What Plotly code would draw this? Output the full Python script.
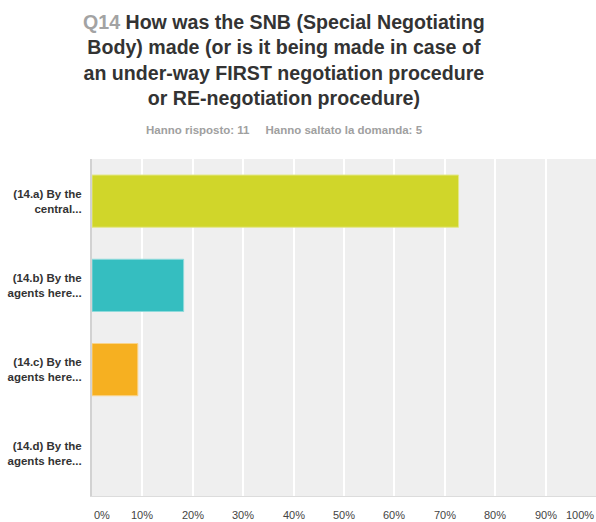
import plotly.graph_objects as go

# Survey question Q14: share of respondents per answer option
categories = ["(14.a) By the<br>central...",
              "(14.b) By the<br>agents here...",
              "(14.c) By the<br>agents here...",
              "(14.d) By the<br>agents here..."]
percentages = [72.73, 18.18, 9.09, 0.0]
bar_colors = ["#d0d62a", "#35bec0", "#f6b021", "#8e6bb0"]
bar_edges = ["#e3e78a", "#8fdadb", "#fad48a", "rgba(0,0,0,0)"]
tick_values = [0, 10, 20, 30, 40, 50, 60, 70, 80, 90, 100]
tick_labels = [f"{v}%" for v in tick_values]

answered = 11
skipped = 5

W, H = 596, 522
L, R, T, B = 92, 0, 159, 26
plot_h = H - T - B
plot_w = W - L - R


def py(px):
    """Pixel row measured from the top -> paper y coordinate."""
    return 1 + (T - px) / plot_h


def pxx(px):
    """Pixel column -> paper x coordinate."""
    return (px - L) / plot_w


fig = go.Figure(
    go.Bar(
        y=categories,
        x=percentages,
        orientation="h",
        marker=dict(color=bar_colors,
                    line=dict(color=bar_edges,
                              width=[1 if p > 0 else 0 for p in percentages])),
        hoverinfo="x+y",
    )
)

font_family = "Liberation Sans, Arial, Helvetica, sans-serif"

title_html = (
    "<b><span style='color:#a3a3a3'>Q14</span> How was the SNB (Special Negotiating<br>"
    "Body) made (or is it being made in case of<br>"
    "an under-way FIRST negotiation procedure<br>"
    "or RE-negotiation procedure)</b>"
)

annotations = [
    dict(
        text=title_html,
        xref="paper", yref="paper",
        x=pxx(284), y=py(60),
        xanchor="center", yanchor="middle",
        showarrow=False, align="center",
        font=dict(family=font_family, size=19.6, color="#333333"),
    ),
    dict(
        text=f"<b>Hanno risposto: {answered}&nbsp;&nbsp;&nbsp;&nbsp; Hanno saltato la domanda: {skipped}</b>",
        xref="paper", yref="paper",
        x=pxx(284), y=py(130),
        xanchor="center", yanchor="middle",
        showarrow=False,
        font=dict(family=font_family, size=11.5, color="#a0a0a0"),
    ),
]

# Percentage labels under the axis (first flush left, last flush right)
for v, lab in zip(tick_values, tick_labels):
    anchor = "center"
    if v == tick_values[0]:
        anchor = "left"
    elif v == tick_values[-1]:
        anchor = "right"
    annotations.append(dict(
        text=lab, xref="x", yref="paper",
        x=v, y=py(515),
        xanchor=anchor, yanchor="middle", showarrow=False,
        font=dict(family=font_family, size=11, color="#444444"),
    ))

fig.update_layout(
    width=W, height=H,
    margin=dict(l=L, r=R, t=T, b=B),
    paper_bgcolor="white",
    plot_bgcolor="#efefef",
    bargap=0.38,
    showlegend=False,
    annotations=annotations,
    font=dict(family=font_family),
)

fig.update_xaxes(
    range=[0, 100],
    tickvals=tick_values,
    showticklabels=False,
    showgrid=True, gridcolor="#ffffff", gridwidth=1.5,
    zeroline=False,
    showline=True, linecolor="#dcdcdc", linewidth=1,
    fixedrange=True,
)

fig.update_yaxes(
    autorange="reversed",
    tickfont=dict(family=font_family, size=11.5, color="#333333"),
    tickmode="array",
    tickvals=categories,
    ticktext=[f"<b>{c}</b>" for c in categories],
    ticks="",
    ticklabelstandoff=6,
    showline=True, linecolor="#d2d2d2", linewidth=2,
    showgrid=False,
    fixedrange=True,
)

fig.write_html("out.html", config={"displayModeBar": False})
